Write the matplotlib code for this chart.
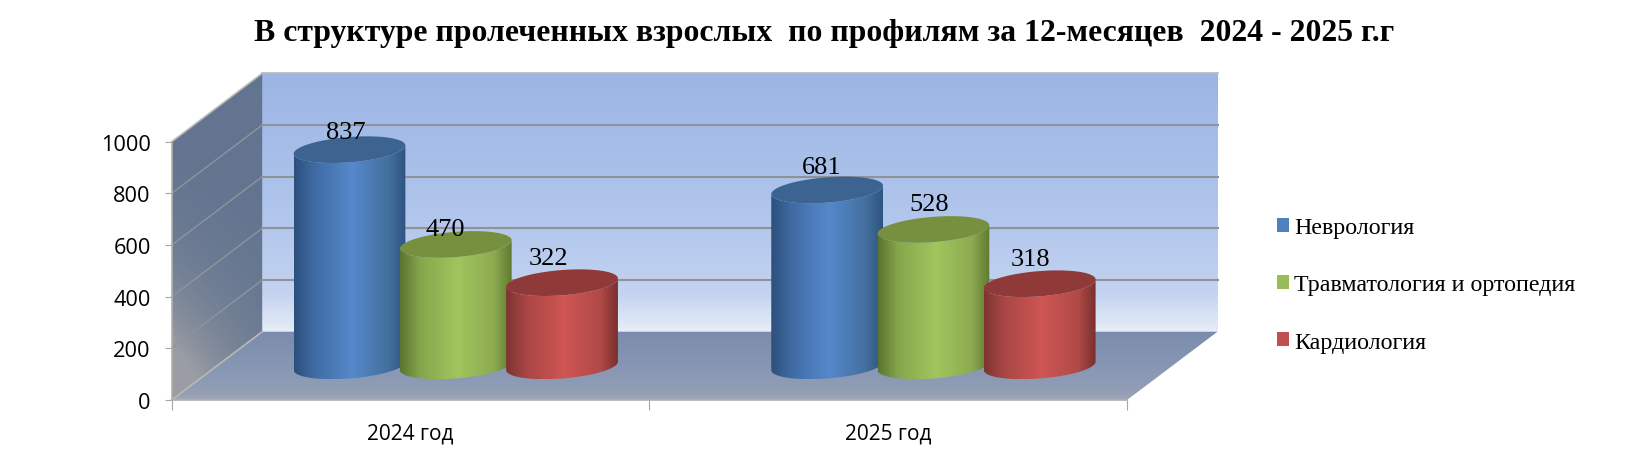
import numpy as np
import matplotlib
matplotlib.use("Agg")
import matplotlib.pyplot as plt
from matplotlib.patches import Polygon, Patch
from matplotlib.colors import to_rgb

title = "В структуре пролеченных взрослых  по профилям за 12-месяцев  2024 - 2025 г.г"
categories = ["2024 год", "2025 год"]
series_names = ["Неврология", "Травматология и ортопедия", "Кардиология"]
nevro = [837, 681]
travma = [470, 528]
kardio = [322, 318]
y_ticks = [0, 200, 400, 600, 800, 1000]

W, H, DPI = 1647, 456, 100
L, R, B, T = 171.7, 1127.0, 401.0, 142.7
fig = plt.figure(figsize=(W / DPI, H / DPI), dpi=DPI, facecolor="white")
ax = fig.add_axes([L / W, 1 - B / H, (R - L) / W, (B - T) / H])
ax.set_xlim(0, 2)
ax.set_ylim(0, 1000)
ax.patch.set_visible(False)

# oblique depth: full depth in data units
DX = 2 * 90.5 / (R - L)
DY = 1000 * 68.3 / (B - T)
def proj(x, v, d):
    return np.asarray(x) + np.asarray(d) * DX, np.asarray(v) + np.asarray(d) * DY

def lerp_stops(stops, n=256):
    pos = np.array([s[0] for s in stops])
    cols = np.array([to_rgb(s[1]) for s in stops])
    t = np.linspace(0, 1, n)
    return np.stack([np.interp(t, pos, cols[:, i]) for i in range(3)], axis=-1)

def gradient_poly(xy, img, zorder):
    xy = np.asarray(xy)
    poly = Polygon(xy, closed=True, fc="none", ec="none", transform=ax.transData, clip_on=False, zorder=zorder)
    ax.add_patch(poly)
    im = ax.imshow(img, extent=(xy[:, 0].min(), xy[:, 0].max(), xy[:, 1].min(), xy[:, 1].max()),
                   origin="upper", aspect="auto", interpolation="bilinear", zorder=zorder)
    im.set_clip_box(fig.bbox)
    im.set_clip_path(poly)
    return im

# walls
corner = lambda x, v, d: tuple(float(c) for c in proj(x, v, d))
back = [corner(0, 0, 1), corner(2, 0, 1), corner(2, 1000, 1), corner(0, 1000, 1)]
back_img = lerp_stops([(0, "#9bb5e4"), (0.5, "#aec4eb"), (0.85, "#c3d3f0"), (0.97, "#e0e8f6"), (1, "#e8eef8")])[:, None, :]
gradient_poly(back, back_img, 1)

left = [corner(0, 0, 0), corner(0, 0, 1), corner(0, 1000, 1), corner(0, 1000, 0)]
gx, gy = np.meshgrid(np.linspace(0, 1, 80), np.linspace(0, 1, 200))
s = np.clip(0.75 * gy + 0.45 * (1 - gx) * gy, 0, 1)
c0, c1 = np.array(to_rgb("#62748f")), np.array(to_rgb("#9a9da3"))
left_img = c0 + (c1 - c0) * (s[..., None] ** 3.2)
gradient_poly(left, left_img, 1)

floor = [corner(0, 0, 0), corner(2, 0, 0), corner(2, 0, 1), corner(0, 0, 1)]
floor_img = lerp_stops([(0, "#7a8cad"), (0.7, "#8c9ab5"), (0.92, "#959fb5"), (1, "#a3a8b4")])[:, None, :]
gradient_poly(floor, floor_img, 1)

# gridlines and edges
for v in y_ticks[1:-1]:
    x0, y0 = proj(0, v, 0); x1, y1 = proj(0, v, 1); x2, y2 = proj(2, v, 1)
    ax.plot([x0, x1], [y0, y1], color="#8f949c", lw=1.0, clip_on=False, zorder=2)
    ax.plot([x1, x2], [y1, y2], color="#8f9399", lw=1.5, clip_on=False, zorder=2)
edge = dict(color="#b9b9b3", lw=1.2, clip_on=False, zorder=2)
for a_, b_ in [((0, 1000, 0), (0, 1000, 1)), ((0, 1000, 1), (2, 1000, 1)), ((0, 0, 0), (0, 0, 1))]:
    p, q = corner(*a_), corner(*b_)
    ax.plot([p[0], q[0]], [p[1], q[1]], **edge)

# cylinders
RX, RD, D0, STEP = 0.111, 0.195, 0.5, 0.2225
styles = [
    dict(side=["#2c4f7c", "#3f6ba3", "#5589cc", "#44709f", "#2f5480"], top="#3d6391", legend="#4f81bd"),
    dict(side=["#5a7430", "#86a64c", "#a2c55e", "#8cab50", "#5f7a30"], top="#76903f", legend="#9bbb59"),
    dict(side=["#7f3431", "#a84644", "#cf5653", "#b04a47", "#7a302e"], top="#8f3a38", legend="#c0504d"),
]
stops_pos = [0, 0.18, 0.52, 0.84, 1]
t0 = np.arctan2(RD * DX, RX)

def ring(cx, v, t):
    return proj(cx + RX * np.cos(t), v, D0 + RD * np.sin(t))

series = [nevro, travma, kardio]
for g in range(len(categories)):
    for k, vals in enumerate(series):
        st = styles[k]
        cx = g + 0.5 + (k - 1) * STEP
        v = vals[g]
        arc = np.linspace(t0, t0 - np.pi, 80)
        bx, by = ring(cx, 0, arc)
        tx, ty = ring(cx, v, arc[::-1])
        side = np.column_stack([np.r_[bx, tx], np.r_[by, ty]])
        img = lerp_stops(list(zip(stops_pos, st["side"])))[None, :, :]
        z = 3 + g + k * 0.1
        gradient_poly(side, img, z)
        tt = np.linspace(0, 2 * np.pi, 160)
        ex, ey = ring(cx, v, tt)
        ax.add_patch(Polygon(np.column_stack([ex, ey]), closed=True, fc=st["top"], ec="none",
                             clip_on=False, zorder=z + 0.01))

# data labels (offsets in pixels from the top centre of each cylinder)
label_off = {(0, 0): (-4, 18), (0, 1): (-11, 15), (0, 2): (-14, 25),
             (1, 0): (-5, 23), (1, 1): (-4, 25), (1, 2): (-9, 25)}
for g in range(len(categories)):
    for k, vals in enumerate(series):
        cx = g + 0.5 + (k - 1) * STEP
        px, py = proj(cx, vals[g], D0)
        off = label_off[(g, k)]
        ax.annotate(str(vals[g]), (float(px), float(py)), xytext=(off[0] * 0.72, off[1] * 0.72),
                    textcoords="offset points", ha="center", va="center", fontsize=19,
                    family="Liberation Serif", color="black", zorder=10, annotation_clip=False)

# axes
for side_name in ("top", "right"):
    ax.spines[side_name].set_visible(False)
for side_name in ("left", "bottom"):
    ax.spines[side_name].set_color("#b0b0aa")
    ax.spines[side_name].set_linewidth(1.2)
    ax.spines[side_name].set_zorder(2.5)
ax.set_yticks(y_ticks)
ax.set_yticklabels([str(t) for t in y_ticks], family="Open Sans", fontsize=15.7, color="black")
ax.set_xticks(range(len(categories) + 1))
ax.set_xticklabels([])
ax.set_xticks([i + 0.5 for i in range(len(categories))], minor=True)
ax.set_xticklabels(categories, minor=True, family="Open Sans", fontsize=15, color="black")
ax.tick_params(axis="y", length=5, color="#a8a8a2", pad=10)
ax.tick_params(axis="x", which="major", length=7, color="#a8a8a2")
ax.tick_params(axis="x", which="minor", length=0, pad=16)

ax.set_xlim(0, 2)
ax.set_ylim(0, 1000)

fig.text(0.5005, 1 - 33.5 / H, title, ha="center", va="center", family="Liberation Serif",
         fontweight="bold", fontsize=22.9, color="black")

handles = [Patch(fc=st["legend"], ec="none") for st in styles]
fig.legend(handles, series_names, loc="center left", bbox_to_anchor=(1276.6 / W, 1 - 286 / H), frameon=False,
           prop={"family": "Liberation Serif", "size": 17.3}, handlelength=0.5, handleheight=0.5,
           handletextpad=0.23, labelspacing=1.5, borderpad=0, borderaxespad=0)

fig.savefig("out.png", dpi=DPI, facecolor="white")
